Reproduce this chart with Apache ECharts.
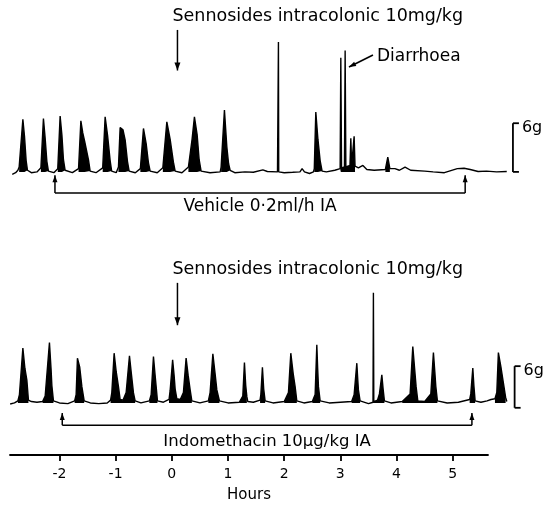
<!DOCTYPE html>
<html>
<head>
<meta charset="utf-8">
<script src="https://cdn.jsdelivr.net/npm/echarts@6/dist/echarts.min.js"></script>
<style>
  html, body { margin: 0; padding: 0; background: #fff; }
  #chart { width: 546px; height: 505px; }
</style>
</head>
<body>
<div id="chart"></div>
<script>
// force trace (g) against time (hours after sennosides)

const hourTicks = [-2, -1, 0, 1, 2, 3, 4, 5];

// top panel: vehicle infusion
const vehicleTrace = [
  [-2.84, -0.3], [-2.78, -0.1], [-2.74, 0.2], [-2.717, 0.6], [-2.651, 6.47], [-2.622, 4.4],
  [-2.593, 1.4], [-2.569, 0.2], [-2.50, -0.1], [-2.40, 0.0], [-2.33, 0.5], [-2.285, 6.59],
  [-2.255, 4.2], [-2.224, 1.3], [-2.196, 0.1], [-2.10, -0.1], [-2.03, 0.4], [-1.988, 6.88],
  [-1.956, 4.5], [-1.929, 1.5], [-1.899, 0.2], [-1.77, -0.1], [-1.66, 0.4], [-1.619, 6.29],
  [-1.585, 4.8], [-1.552, 3.8], [-1.484, 1.5], [-1.454, 0.1], [-1.35, -0.1], [-1.23, 0.5],
  [-1.187, 6.79], [-1.142, 4.4], [-1.098, 1.4], [-1.071, 0.1], [-0.99, -0.1], [-0.95, 0.6],
  [-0.92, 5.48], [-0.87, 5.2], [-0.83, 3.9], [-0.79, 1.3], [-0.76, 0.1], [-0.65, -0.1],
  [-0.56, 0.4], [-0.505, 5.35], [-0.457, 3.5], [-0.416, 1.1], [-0.386, 0.1], [-0.26, -0.1],
  [-0.16, 0.5], [-0.089, 6.17], [-0.03, 4.0], [0.028, 1.2], [0.059, 0.1], [0.18, -0.1],
  [0.295, 0.6], [0.36, 4.0], [0.402, 6.79], [0.45, 4.6], [0.486, 1.5], [0.521, 0.1],
  [0.68, -0.1], [0.86, 0.0], [0.877, 0.6], [0.936, 7.62], [0.979, 3.07], [1.01, 1.0],
  [1.037, 0.2], [1.12, -0.1], [1.30, 0.0], [1.45, -0.05], [1.62, 0.25], [1.70, 0.05],
  [1.88, 0.0], [1.892, 0.1], [1.897, 16.0], [1.902, 0.0], [2.0, -0.1], [2.15, -0.05],
  [2.28, 0.0], [2.318, 0.4], [2.36, 0.0], [2.45, -0.2], [2.52, 0.0], [2.535, 0.4],
  [2.562, 7.37], [2.60, 4.0], [2.639, 1.4], [2.674, 0.1], [2.75, 0.0], [2.90, 0.2],
  [2.995, 0.4], [3.007, 14.06], [3.02, 0.5], [3.072, 0.6], [3.084, 14.96], [3.097, 0.6],
  [3.17, 0.8], [3.185, 4.15], [3.20, 0.8], [3.23, 0.9], [3.244, 4.4], [3.26, 0.7],
  [3.32, 0.5], [3.40, 0.8], [3.47, 0.3], [3.60, 0.2], [3.80, 0.3], [3.843, 1.83],
  [3.88, 0.4], [3.97, 0.4], [4.05, 0.2], [4.15, 0.6], [4.25, 0.2], [4.50, 0.1],
  [4.65, 0.0], [4.85, -0.1], [5.08, 0.4], [5.20, 0.45], [5.31, 0.3], [5.45, 0.05],
  [5.60, 0.1], [5.78, 0.0], [5.96, 0.05]
];

// bottom panel: indomethacin infusion
const indoTrace = [
  [-2.877, -0.15], [-2.80, 0.0], [-2.74, 0.3], [-2.712, 1.2], [-2.651, 7.89], [-2.615, 5.0],
  [-2.580, 3.3], [-2.552, 0.4], [-2.50, 0.2], [-2.40, 0.1], [-2.30, 0.2], [-2.254, 1.0],
  [-2.178, 8.70], [-2.150, 5.0], [-2.135, 2.5], [-2.107, 0.3], [-2.00, 0.0], [-1.85, -0.1],
  [-1.73, 0.3], [-1.703, 1.2], [-1.680, 6.45], [-1.64, 5.2], [-1.601, 2.35], [-1.560, 0.3],
  [-1.45, 0.0], [-1.30, -0.1], [-1.15, 0.0], [-1.09, 0.4], [-1.068, 1.5], [-1.027, 7.17],
  [-0.99, 4.5], [-0.950, 2.35], [-0.920, 0.5], [-0.87, 0.4], [-0.813, 1.5], [-0.754, 6.78],
  [-0.72, 4.2], [-0.683, 1.44], [-0.653, 0.3], [-0.55, 0.0], [-0.40, 0.3], [-0.368, 1.2],
  [-0.327, 6.68], [-0.30, 4.2], [-0.279, 2.35], [-0.256, 0.3], [-0.15, 0.1], [-0.05, 0.5],
  [-0.030, 1.8], [0.014, 6.20], [0.04, 4.0], [0.059, 2.0], [0.089, 0.6], [0.15, 0.5],
  [0.206, 1.5], [0.254, 6.45], [0.29, 4.0], [0.326, 1.88], [0.356, 0.3], [0.50, 0.0],
  [0.65, 0.3], [0.681, 1.5], [0.730, 7.07], [0.77, 4.2], [0.801, 1.88], [0.847, 0.3],
  [1.00, 0.0], [1.20, 0.1], [1.263, 1.0], [1.292, 5.82], [1.315, 2.5], [1.335, 0.9],
  [1.352, 0.2], [1.45, 0.1], [1.57, 0.4], [1.584, 1.2], [1.612, 5.15], [1.635, 2.0],
  [1.660, 0.3], [1.80, 0.0], [2.00, 0.2], [2.075, 1.5], [2.117, 7.17], [2.16, 4.2],
  [2.194, 2.35], [2.224, 0.3], [2.35, 0.0], [2.50, 0.2], [2.550, 1.2], [2.580, 8.37],
  [2.595, 5.0], [2.609, 2.35], [2.639, 0.3], [2.80, 0.0], [3.00, 0.1], [3.20, 0.2],
  [3.244, 1.2], [3.292, 5.73], [3.310, 3.2], [3.320, 1.88], [3.350, 0.3], [3.50, -0.1],
  [3.580, 0.1], [3.587, 15.87], [3.594, 0.2], [3.66, 0.4], [3.694, 1.3], [3.737, 4.04],
  [3.76, 2.0], [3.783, 0.3], [3.90, 0.0], [4.10, 0.2], [4.240, 1.3], [4.288, 8.12],
  [4.32, 5.0], [4.347, 2.35], [4.377, 0.3], [4.50, 0.2], [4.609, 1.3], [4.655, 7.26],
  [4.68, 4.5], [4.698, 2.35], [4.726, 0.3], [4.90, 0.0], [5.10, 0.1], [5.300, 0.5],
  [5.320, 1.3], [5.356, 5.01], [5.375, 2.5], [5.397, 0.3], [5.50, 0.1], [5.61, 0.3],
  [5.68, 0.5], [5.75, 0.6], [5.783, 1.5], [5.811, 7.26], [5.86, 5.0], [5.900, 2.9],
  [5.940, 0.8], [5.961, 0.2]
];

// annotations (hours / grams)
const doseHour = 0.1;
const doseLabel = 'Sennosides intracolonic 10mg/kg';
const doseArrowG = [[17.5, 12.5], [17.3, 11.2]];      // [from, to] per panel
const infusionLabels = ['Vehicle 0\u00b72ml/h IA', 'Indomethacin 10\u00b5g/kg IA'];
const infusionSpans = [[-2.08, 5.22], [-1.95, 5.34]];
const infusionLineG = [-2.6, -3.2];
const infusionTipG = [-0.4, -1.45];
const infusionTextGap = [14, 17];
const infusionFont = [17, 16.5];
const scaleBarHour = [6.07, 6.10];
const scaleBarBase = [0, -0.7];
const scaleBarG = 6;
const diarrhoeaTail = [3.579, 14.41];
const diarrhoeaTip = [3.152, 12.93];

const FONT = '"DejaVu Sans", sans-serif';
const FILL_FROM = 1.0;   // bursts (and their rise/fall points) are inked solid
const chart = echarts.init(document.getElementById('chart'), null, { renderer: 'canvas' });

function traceLine(idx, data) {
  return {
    type: 'line', xAxisIndex: idx, yAxisIndex: idx, data: data,
    symbol: 'none', silent: true,
    lineStyle: { color: '#000', width: 1.4 }
  };
}
function traceBursts(idx, data) {
  const hot = (i) => data[i] && data[i][1] >= FILL_FROM;
  return {
    type: 'line', xAxisIndex: idx, yAxisIndex: idx,
    data: data.map((p, i) => (hot(i) || hot(i - 1) || hot(i + 1) ? p : [p[0], null])),
    symbol: 'none', silent: true, connectNulls: false,
    lineStyle: { width: 0 },
    areaStyle: { color: '#000', opacity: 1, origin: 0 }
  };
}

chart.setOption({
  animation: false,
  grid: [
    { left: 10, right: 37, top: 34, height: 146, outerBoundsMode: 'none' },
    { left: 10, right: 37, top: 278, bottom: 50, outerBoundsMode: 'none' },
    { left: 10, right: 58, top: 454, bottom: 50, outerBoundsMode: 'none' }
  ],
  xAxis: [
    { gridIndex: 0, type: 'value', min: -2.88, max: 6.0, show: false },
    { gridIndex: 1, type: 'value', min: -2.88, max: 6.0, show: false },
    {
      gridIndex: 2, type: 'value', min: -2.88, max: 5.63,
      splitLine: { show: false },
      axisLine: { onZero: false, lineStyle: { color: '#000', width: 1.8 } },
      axisTick: { customValues: hourTicks, length: 6, lineStyle: { color: '#000', width: 1.8 } },
      axisLabel: { customValues: hourTicks, color: '#000', fontSize: 14, margin: 12, fontFamily: FONT },
      name: 'Hours', nameLocation: 'middle', nameGap: 33,
      nameTextStyle: { color: '#000', fontSize: 15, fontFamily: FONT }
    }
  ],
  yAxis: [
    { gridIndex: 0, type: 'value', min: -1, max: 17, show: false },
    { gridIndex: 1, type: 'value', min: -7.5, max: 18, show: false },
    { gridIndex: 2, type: 'value', min: 0, max: 1, show: false }
  ],
  series: [
    traceBursts(0, vehicleTrace), traceLine(0, vehicleTrace),
    traceBursts(1, indoTrace), traceLine(1, indoTrace)
  ]
});

// annotations, placed through the axes
const px = (gi, h, g) => chart.convertToPixel({ gridIndex: gi }, [h, g]);

function seg(a, b, w) {
  return { type: 'line', silent: true, shape: { x1: a[0], y1: a[1], x2: b[0], y2: b[1] },
           style: { stroke: '#000', lineWidth: w || 1.5 } };
}
function head(from, tip, len, half) {
  const dx = tip[0] - from[0], dy = tip[1] - from[1];
  const d = Math.sqrt(dx * dx + dy * dy) || 1;
  const ux = dx / d, uy = dy / d;
  const bx = tip[0] - ux * len, by = tip[1] - uy * len;
  return { type: 'polygon', silent: true,
           shape: { points: [tip, [bx - uy * half, by + ux * half], [bx + uy * half, by - ux * half]] },
           style: { fill: '#000' } };
}
function label(x, y, text, size, align) {
  return { type: 'text', silent: true, x: x, y: y,
           style: { text: text, font: size + 'px ' + FONT, fill: '#000',
                    textAlign: align, align: align, textVerticalAlign: 'middle', verticalAlign: 'middle' } };
}

const elements = [];
[0, 1].forEach(function (gi) {
  // dose arrow + label
  const a0 = px(gi, doseHour, doseArrowG[gi][0]);
  const a1 = px(gi, doseHour, doseArrowG[gi][1]);
  elements.push(seg(a0, a1, 1.5), head(a0, a1, 8, 3));
  elements.push(label(a0[0] - 5, a0[1] - 13, doseLabel, 17.5, 'left'));

  // infusion bracket
  const span = infusionSpans[gi];
  const l0 = px(gi, span[0], infusionLineG[gi]);
  const l1 = px(gi, span[1], infusionLineG[gi]);
  const t0 = px(gi, span[0], infusionTipG[gi]);
  const t1 = px(gi, span[1], infusionTipG[gi]);
  elements.push(seg(l0, l1, 1.5), seg(l0, t0, 1.5), seg(l1, t1, 1.5));
  elements.push(head(l0, t0, 7, 2.5), head(l1, t1, 7, 2.5));
  elements.push(label((l0[0] + l1[0]) / 2, l0[1] + infusionTextGap[gi], infusionLabels[gi], infusionFont[gi], 'center'));

  // 6 g scale bar
  const s0 = px(gi, scaleBarHour[gi], scaleBarBase[gi]);
  const s1 = px(gi, scaleBarHour[gi], scaleBarBase[gi] + scaleBarG);
  elements.push(seg(s0, s1, 1.8), seg(s0, [s0[0] + 6, s0[1]], 1.8), seg(s1, [s1[0] + 6, s1[1]], 1.8));
  elements.push(label(s1[0] + 9, s1[1] + 5, scaleBarG + 'g', 16, 'left'));
});

// diarrhoea pointer
const dTail = px(0, diarrhoeaTail[0], diarrhoeaTail[1]);
const dTip = px(0, diarrhoeaTip[0], diarrhoeaTip[1]);
elements.push(seg(dTail, dTip, 1.5), head(dTail, dTip, 7, 2.5));
elements.push(label(dTail[0] + 4, dTail[1] + 2, 'Diarrhoea', 17, 'left'));

chart.setOption({ graphic: elements });
</script>
</body>
</html>
